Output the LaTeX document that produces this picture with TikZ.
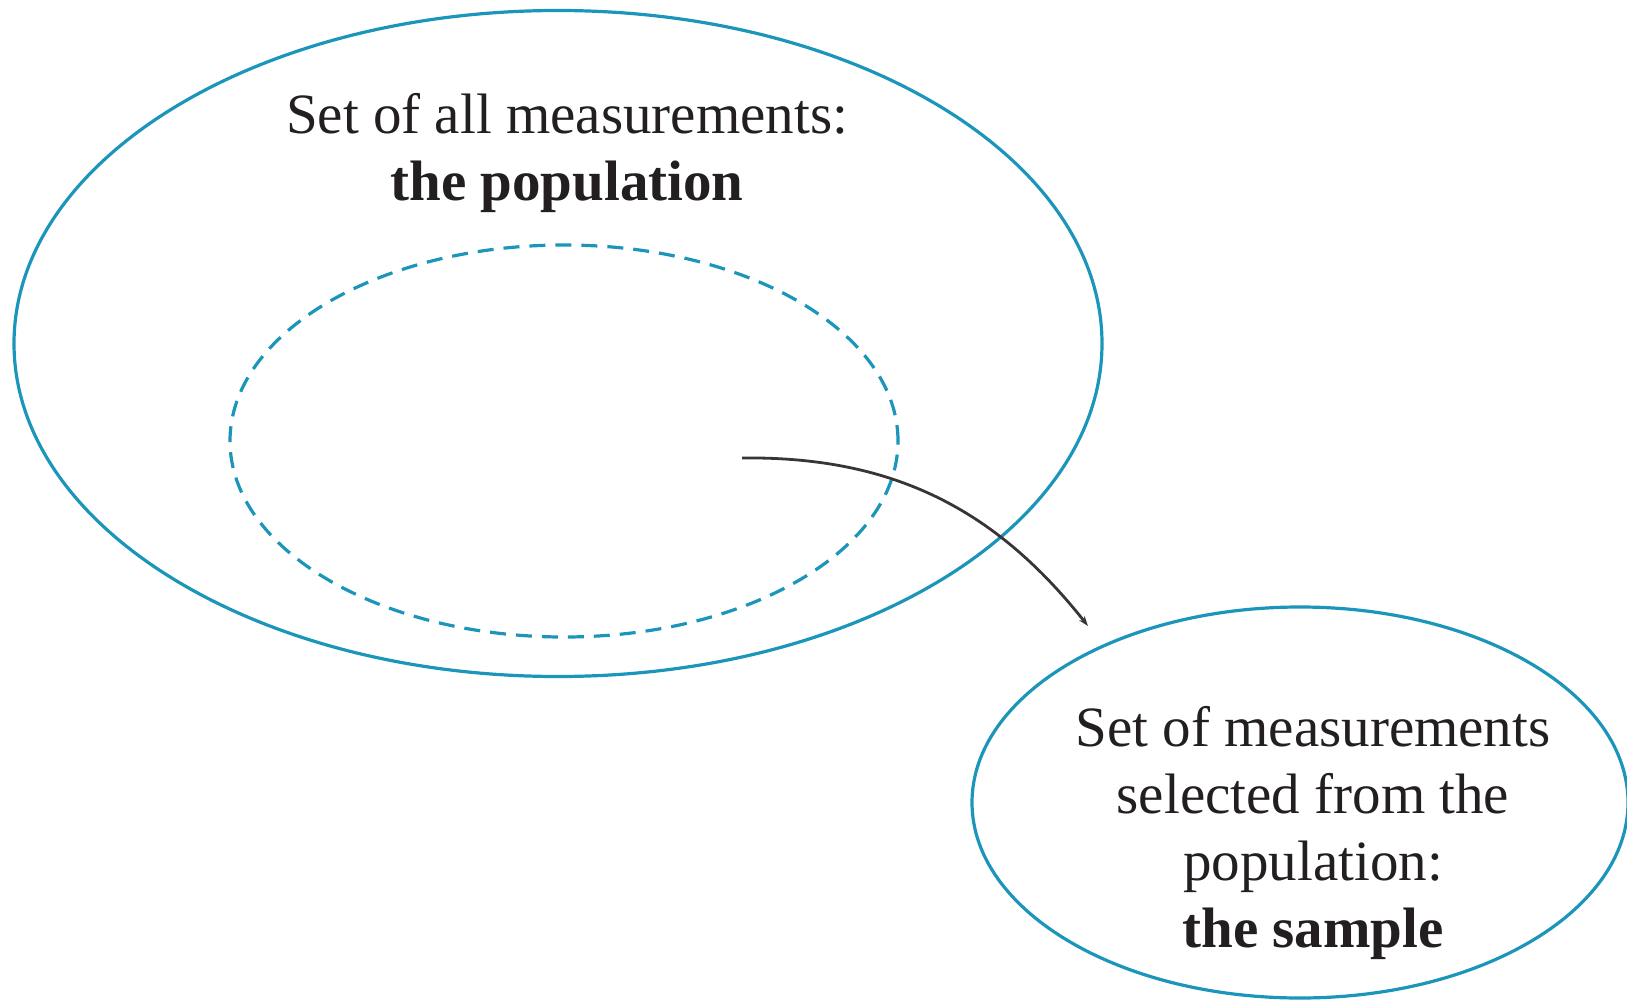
\documentclass[tikz,border=0pt]{standalone}
\usepackage{fontspec}
\setmainfont{Liberation Serif}
\usetikzlibrary{shapes.geometric,arrows.meta}
\definecolor{setblue}{HTML}{1B95BA}
\definecolor{inkdark}{HTML}{231F20}
\tikzset{
  setline/.style={draw=setblue, line width=3.2pt, ellipse, inner sep=0pt},
  settext/.style={text=inkdark, align=center, font=\fontsize{57}{67}\selectfont, inner sep=0pt},
  pick/.style={draw=inkdark!90, line width=2.8pt, -{Stealth[length=10pt,width=7pt]}}
}
\begin{document}
\begin{tikzpicture}[x=1pt,y=-1pt]
\useasboundingbox (0,0) rectangle (1627,1001);
\node[setline, minimum width=1088pt, minimum height=666pt] (population) at (558,343.5) {};
\node[setline, dashed, dash pattern=on 16pt off 10pt, minimum width=668pt, minimum height=392pt] (subset) at (564,441) {};
\node[setline, minimum width=656pt, minimum height=391pt] (sample) at (1300,802.5) {};
\node[settext, anchor=base] (poptext) at (567,200) {Set of all measurements:\\\textbf{the population}};
\node[settext, anchor=base] (sampletext) at (1313,947) {Set of measurements\\selected from the\\population:\\\textbf{the sample}};
\coordinate (from) at (742,458);
\coordinate (to) at (1088,626);
\draw[pick] (from) .. controls (900,456) and (1000,515) .. (to);
\end{tikzpicture}
\end{document}
